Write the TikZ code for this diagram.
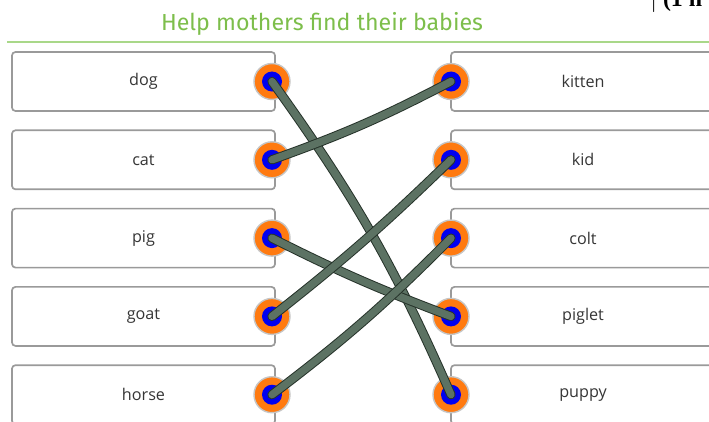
\documentclass[tikz,border=0pt]{standalone}
\usepackage{fontspec}
\setmainfont{Open Sans}
\newfontfamily\titlefont{Fira Sans}
\newfontfamily\markfont{Liberation Serif}
\definecolor{boxgray}{HTML}{9A9A9A}
\definecolor{labelgray}{HTML}{363636}
\definecolor{titlegreen}{HTML}{7DBE4B}
\definecolor{rulegreen}{HTML}{A9D889}
\definecolor{dotorange}{HTML}{FF7A10}
\definecolor{dotblue}{HTML}{0000F0}
\definecolor{ropefill}{HTML}{5C7263}
\definecolor{ropeedge}{HTML}{26332A}
\begin{document}
\begin{tikzpicture}[x=0.025cm,y=-0.025cm,
    card/.style={draw=boxgray,line width=1.2pt,rounded corners=2.5pt,fill=white,
      minimum width=6.575cm,minimum height=1.475cm,inner sep=0pt,
      font=\fontsize{11.5}{13}\selectfont,text=labelgray},
    dot/.style={circle,minimum size=0.9cm,inner sep=0pt,fill=dotorange,
      draw=gray!45,line width=1pt,
      path picture={\fill[dotblue] (path picture bounding box.center) circle (0.25cm);}},
    rope/.style={draw=ropeedge,line width=0.7pt,double=ropefill,double distance=5.2pt,line cap=round}]
  \useasboundingbox (0,0) rectangle (709,421);
  \node[font=\titlefont\fontsize{16.5}{19}\selectfont,text=titlegreen] (title) at (322,24) {Help mothers find their babies};
  \draw[rulegreen,line width=1.1pt] (7,42) -- (709,42);
  \node[font=\markfont\bfseries\fontsize{17}{20}\selectfont,anchor=base west,inner sep=0pt] (mark) at (650,7) {$|$ (1 h};
  \foreach \a/\b [count=\i] in {dog/kitten,cat/kid,pig/colt,goat/piglet,horse/puppy}{
    \node[card] (\a) at (143.5,{81.5+78.3*(\i-1)}) {\a};
    \node[card,minimum width=6.6cm] (\b) at (583,{81.5+78.3*(\i-1)}) {\b};
    \node[dot] (\a-d) at (272,{81.5+78.3*(\i-1)}) {};
    \node[dot] (\b-d) at (451,{81.5+78.3*(\i-1)}) {};
  }
  \draw[rope] (dog-d.center) to[bend left=6] (puppy-d.center);
  \draw[rope] (cat-d.center) to[bend right=4] (kitten-d.center);
  \draw[rope] (pig-d.center) to[bend right=3] (piglet-d.center);
  \draw[rope] (goat-d.center) to[bend right=3] (kid-d.center);
  \draw[rope] (horse-d.center) to[bend right=4] (colt-d.center);
\end{tikzpicture}
\end{document}
